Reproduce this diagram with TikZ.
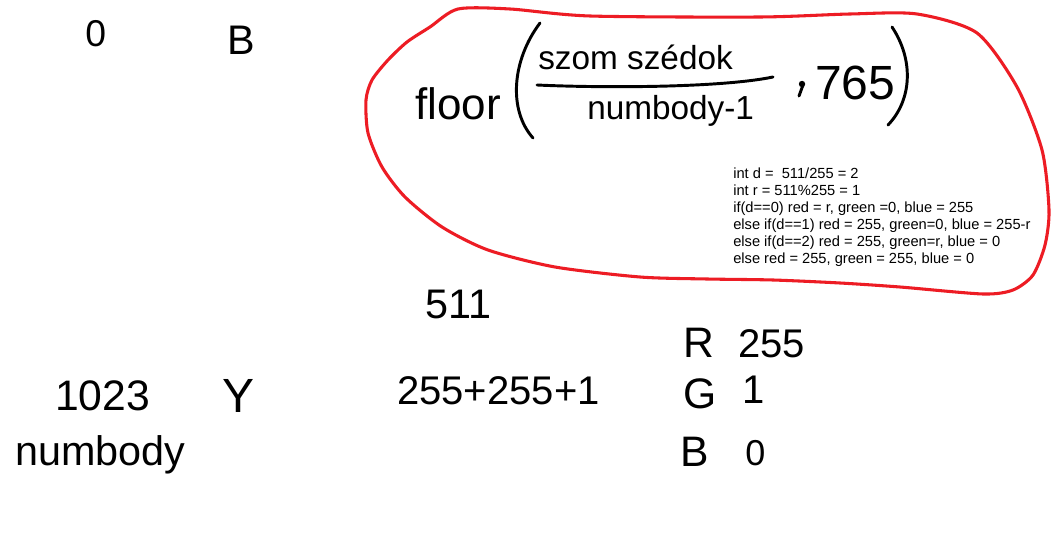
\documentclass[tikz,border=0pt]{standalone}
\usepackage{fontspec}
\setmainfont{Liberation Sans}
\definecolor{paintred}{RGB}{237,28,36}
\begin{document}
\begin{tikzpicture}[x=0.75pt,y=-0.75pt,
  hand/.style={inner sep=0pt, anchor=base west, font=\fontsize{#1}{#1}\selectfont},
  stroke/.style={line width=2.2pt, line cap=round, line join=round, black},
  typed/.style={inner sep=0pt, anchor=north west, align=left, font=\fontsize{11}{12.75}\selectfont}]
\useasboundingbox[fill=white] (0,0) rectangle (1062,559);

% red loop
\draw[paintred, line width=2.3pt, line join=round] plot[smooth cycle, tension=0.45] coordinates {
 (458,9) (510,9) (590,16) (760,17) (850,14) (917,14) (977,33) (1017,87) (1042,150) (1049,210)
 (1045,245) (1033,275) (1013,290) (983,294) (900,287) (840,283) (773,280) (707,279) (640,277) (555,267)
 (488,250) (442,227) (405,197) (382,167) (368,133) (366,100) (372,80) (388,60) (407,42) (430,27)};

% formula
\node[hand=33] (floor) at (415,120) {floor};
\draw[stroke] (540,23) .. controls (512,60) and (508,110) .. (533,138);
\node[hand=25] (num) at (538,70) {szom szédok};
\draw[stroke] (537,85) .. controls (600,88) and (720,88) .. (773,77);
\node[hand=25] (den) at (587,120) {numbody-1};
\fill (802,84) circle (3.2);
\draw[stroke] (803,85) -- (799,96);
\node[hand=36] (c765) at (815,100) {765};
\draw[stroke] (892,27) .. controls (914,60) and (912,100) .. (888,125);

% code block
\node[typed] (code) at (733,167.5) {int d =\ \ 511/255 = 2\\
int r = 511\%255 = 1\\
if(d==0) red = r, green =0, blue = 255\\
else if(d==1) red = 255, green=0, blue = 255-r\\
else if(d==2) red = 255, green=r, blue = 0\\
else red = 255, green = 255, blue = 0};

% handwritten values
\node[hand=28] (zero) at (85,47) {0};
\node[hand=31] (btop) at (227,55) {B};
\node[hand=31] (v511) at (425,318) {511};
\node[hand=32] (rlab) at (683,357) {R};
\node[hand=30] (r255) at (738,357) {255};
\node[hand=32] (v1023) at (55,410) {1023};
\node[hand=36] (ylab) at (222,412) {Y};
\node[hand=30] (sum) at (397,404) {255+255+1};
\node[hand=32] (glab) at (683,408) {G};
\node[hand=30] (g1) at (742,403) {1};
\node[hand=31] (numbody) at (15,465) {numbody};
\node[hand=32] (blab) at (680,466) {B};
\node[hand=27] (b0) at (745,465) {0};
\end{tikzpicture}
\end{document}
